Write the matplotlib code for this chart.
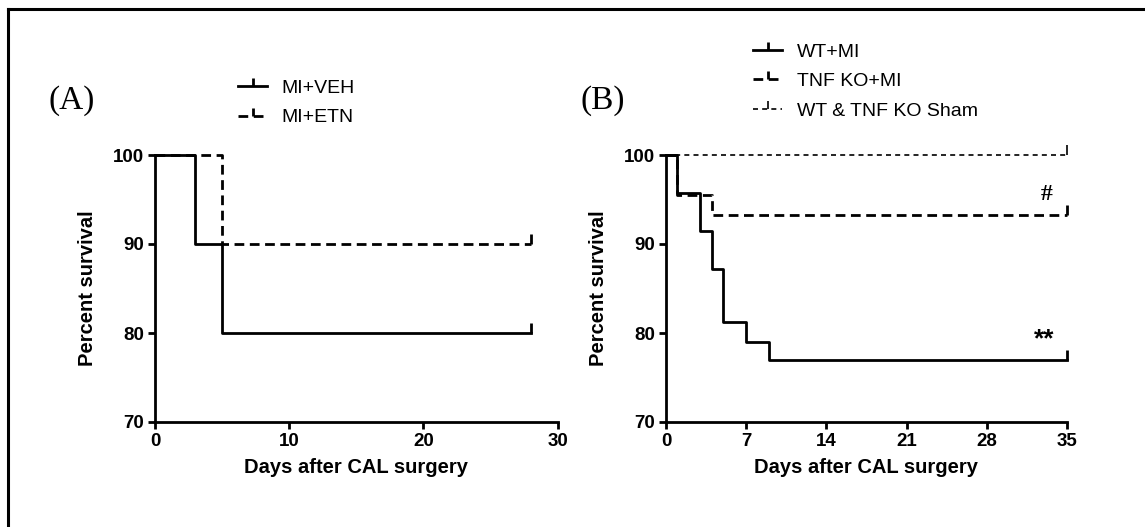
import matplotlib
matplotlib.use("Agg")
import matplotlib.pyplot as plt
from matplotlib.lines import Line2D

plt.rcParams['font.family'] = ['Liberation Sans', 'DejaVu Sans']

# panel A data (Kaplan-Meier steps)
a_veh_days = [0, 3, 5, 28]
a_veh_surv = [100, 90, 80, 80]
a_etn_days = [0, 5, 28]
a_etn_surv = [100, 90, 90]

# panel B data
b_wt_days = [0, 1, 3, 4, 5, 7, 9, 35]
b_wt_surv = [100, 95.7, 91.5, 87.2, 81.2, 79.0, 77.0, 77.0]
b_ko_days = [0, 1, 4, 35]
b_ko_surv = [100, 95.5, 93.3, 93.3]
b_sham_days = [0, 35]
b_sham_surv = [100, 100]

a_labels = ['MI+VEH', 'MI+ETN']
b_labels = ['WT+MI', 'TNF KO+MI', 'WT & TNF KO Sham']
a_xticks = [0, 10, 20, 30]
b_xticks = [0, 7, 14, 21, 28, 35]
yticks = [70, 80, 90, 100]

solid = dict(color='black', lw=2.0, linestyle='-')
dashed = dict(color='black', lw=2.0, linestyle=(0, (3.5, 2)))
dotted = dict(color='black', lw=1.2, linestyle=(0, (3, 2.5)))

fig = plt.figure(figsize=(11.45, 5.27), dpi=100)

# outer frame (top and left only)
fig.add_artist(Line2D([8 / 1145, 1], [1 - 9 / 527, 1 - 9 / 527], color='black', lw=2.2))
fig.add_artist(Line2D([8 / 1145, 8 / 1145], [0, 1 - 9 / 527], color='black', lw=2.2))


def km(ax, days, surv, style):
    ax.step(days, surv, where='post', **style)
    # censor tick at the end
    ax.plot([days[-1]], [surv[-1]], marker=2, markersize=7, mew=style['lw'],
            color='black', linestyle='none')


def style_axes(ax, xmax, xticks):
    ax.set_xlim(0, xmax)
    ax.set_ylim(70, 100)
    ax.set_xticks(xticks)
    ax.set_yticks(yticks)
    for s in ['top', 'right']:
        ax.spines[s].set_visible(False)
    for s in ['left', 'bottom']:
        ax.spines[s].set_linewidth(2.0)
    ax.tick_params(direction='out', length=5, width=2.0, labelsize=13.5, pad=3)
    for lab in ax.get_xticklabels() + ax.get_yticklabels():
        lab.set_fontweight('bold')
    ax.set_xlabel('Days after CAL surgery', fontsize=14.5, fontweight='bold', labelpad=6)
    ax.set_ylabel('Percent survival', fontsize=14.5, fontweight='bold', labelpad=11)


def handle(style):
    return Line2D([0], [0], marker=2, markersize=6, mew=style['lw'], **style)


# panel A
ax1 = fig.add_axes([155 / 1145, 1 - 422 / 527, (557.7 - 155) / 1145, (422 - 155) / 527])
km(ax1, a_veh_days, a_veh_surv, solid)
km(ax1, a_etn_days, a_etn_surv, dashed)
style_axes(ax1, 30, a_xticks)
for l in ax1.lines:
    l.set_clip_on(False)
fig.legend([handle(solid), handle(dashed)], a_labels, loc='center left',
           bbox_to_anchor=(238 / 1145, 1 - 103 / 527), frameon=False, fontsize=14,
           handlelength=1.5, handletextpad=0.75, labelspacing=0.6, borderpad=0,
           borderaxespad=0, numpoints=1)
fig.text(48 / 1145, 1 - 101 / 527, '(A)', family='Liberation Serif', fontsize=24,
         va='center', ha='left')

# panel B
ax2 = fig.add_axes([666 / 1145, 1 - 422 / 527, (1067 - 666) / 1145, (422 - 155) / 527])
km(ax2, b_sham_days, b_sham_surv, dotted)
km(ax2, b_ko_days, b_ko_surv, dashed)
km(ax2, b_wt_days, b_wt_surv, solid)
style_axes(ax2, 35, b_xticks)
for l in ax2.lines:
    l.set_clip_on(False)
fig.legend([handle(solid), handle(dashed), handle(dotted)], b_labels, loc='center left',
           bbox_to_anchor=(753 / 1145, 1 - 81.5 / 527), frameon=False, fontsize=14,
           handlelength=1.5, handletextpad=0.75, labelspacing=0.6, borderpad=0,
           borderaxespad=0, numpoints=1)
fig.text(581 / 1145, 1 - 101 / 527, '(B)', family='Liberation Serif', fontsize=24,
         va='center', ha='left')

ax2.text(33.2, 95.6, '#', family='Liberation Serif', fontweight='bold', fontsize=17,
         ha='center', va='center')
ax2.text(33.0, 79.3, '**', fontweight='bold', fontsize=19, ha='center', va='center')

fig.savefig('out.png', dpi=100)
